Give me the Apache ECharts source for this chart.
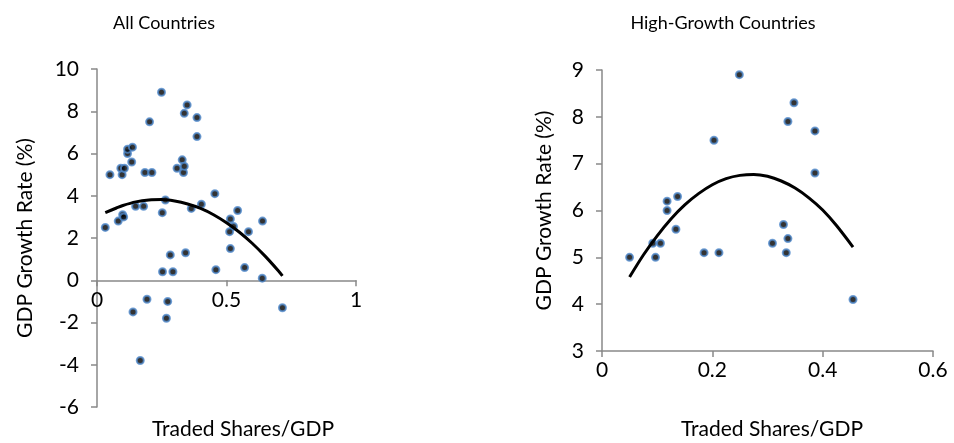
<!DOCTYPE html>
<html><head><meta charset="utf-8">
<script src="https://cdn.jsdelivr.net/npm/echarts@6/dist/echarts.min.js"></script>
<style>html,body{margin:0;padding:0;background:#fff}#c{width:954px;height:443px}</style>
</head><body><div id="c"></div>
<script>
// High-growth countries: [traded shares / GDP, GDP growth %]
const highGrowth = [
  [0.050,5.0],[0.092,5.3],[0.097,5.0],[0.106,5.3],[0.118,6.0],[0.118,6.2],[0.134,5.6],
  [0.137,6.3],[0.185,5.1],[0.203,7.5],[0.212,5.1],[0.249,8.9],[0.309,5.3],[0.329,5.7],
  [0.334,5.1],[0.337,5.4],[0.337,7.9],[0.348,8.3],[0.386,7.7],[0.386,6.8],[0.455,4.1]
];
// Remaining countries (shown only in the "All Countries" panel)
const otherCountries = [
  [0.032,2.5],[0.082,2.8],[0.099,3.1],[0.103,3.0],[0.149,3.5],[0.180,3.5],[0.252,3.2],
  [0.264,3.8],[0.364,3.4],[0.403,3.6],[0.283,1.2],[0.342,1.3],[0.253,0.4],[0.293,0.4],
  [0.459,0.5],[0.515,2.9],[0.543,3.3],[0.527,2.55],[0.512,2.3],[0.585,2.3],[0.515,1.5],
  [0.570,0.6],[0.639,2.8],[0.638,0.1],[0.139,-1.5],[0.193,-0.9],[0.273,-1.0],[0.268,-1.8],
  [0.167,-3.8],[0.716,-1.3]
];
// Polynomial trend lines
const allTrend = [
  [0.032,3.2],[0.075,3.42],[0.1,3.54],[0.15,3.71],[0.2,3.8],[0.25,3.82],[0.3,3.75],
  [0.35,3.61],[0.4,3.4],[0.45,3.1],[0.5,2.72],[0.55,2.27],[0.6,1.74],[0.65,1.13],
  [0.7,0.45],[0.716,0.21]
];
const highTrend = [
  [0.05,4.58],[0.075,5.05],[0.1,5.46],[0.125,5.82],[0.15,6.12],[0.175,6.36],[0.2,6.55],
  [0.225,6.68],[0.25,6.75],[0.275,6.77],[0.3,6.73],[0.325,6.63],[0.35,6.48],[0.375,6.27],
  [0.4,6.01],[0.425,5.68],[0.455,5.22]
];

const titles = ['All Countries', 'High-Growth Countries'];
const xName = 'Traded Shares/GDP';
const yName = 'GDP Growth Rate (%)';

const FONT = 'Lato';
const axisGray = '#898989';
const allCountries = highGrowth.concat(otherCountries);

function axisCommon() {
  return {
    type: 'value',
    splitLine: { show: false },
    axisLine: { show: true, onZero: false, lineStyle: { color: axisGray, width: 1.5 } },
    axisTick: { show: true, length: 6, lineStyle: { color: axisGray, width: 1.5 } },
    axisLabel: { color: '#000', fontFamily: FONT, fontSize: 21 }
  };
}
function xAx(gi, max, interval) {
  const a = axisCommon();
  a.gridIndex = gi; a.min = 0; a.max = max; a.interval = interval;
  a.axisLabel.margin = 9;
  return a;
}
function yAx(gi, min, max, interval) {
  const a = axisCommon();
  a.gridIndex = gi; a.min = min; a.max = max; a.interval = interval;
  a.axisLabel.margin = 18;
  a.name = yName; a.nameLocation = 'middle'; a.nameRotate = 90;
  a.nameTextStyle = { color: '#000', fontFamily: FONT, fontSize: 21 };
  return a;
}
const marker = { color: '#000', borderColor: '#5089cc', borderWidth: 2 };

const yL = yAx(0, -6, 10, 2); yL.nameGap = 61;
const yR = yAx(1, 3, 9, 1); yR.nameGap = 47;
const xL = xAx(0, 1, 0.5);
// left panel: x axis crosses at y = 0 (grid bottom is y = -6; 6 units * 338/16 px)
xL.offset = -126.75;
const xR = xAx(1, 0.6, 0.2);

const titleStyle = { fontFamily: FONT, fontSize: 18, fontWeight: 'normal', color: '#000' };
const axTitleStyle = { fontFamily: FONT, fontSize: 21, fontWeight: 'normal', color: '#000' };

const option = {
  animation: false,
  backgroundColor: '#fff',
  title: [
    { text: titles[0], left: 159, top: 9, textAlign: 'center', textStyle: titleStyle },
    { text: titles[1], left: 718, top: 9, textAlign: 'center', textStyle: titleStyle },
    { text: xName, left: 238, top: 414, textAlign: 'center', textStyle: axTitleStyle },
    { text: xName, left: 767, top: 414, textAlign: 'center', textStyle: axTitleStyle }
  ],
  grid: [
    { left: 97, width: 259, top: 69, height: 338 },
    { left: 602, width: 331, top: 70, height: 281 }
  ],
  xAxis: [xL, xR],
  yAxis: [yL, yR],
  series: [
    { type: 'scatter', xAxisIndex: 0, yAxisIndex: 0, data: allCountries, symbolSize: 7, itemStyle: marker, z: 2 },
    { type: 'line', xAxisIndex: 0, yAxisIndex: 0, data: allTrend, smooth: 0.3, showSymbol: false, lineStyle: { color: '#000', width: 3 }, z: 3 },
    { type: 'scatter', xAxisIndex: 1, yAxisIndex: 1, data: highGrowth, symbolSize: 7, itemStyle: marker, z: 2 },
    { type: 'line', xAxisIndex: 1, yAxisIndex: 1, data: highTrend, smooth: 0.3, showSymbol: false, lineStyle: { color: '#000', width: 3 }, z: 3 }
  ]
};
const chart = echarts.init(document.getElementById('c'), null, { renderer: 'canvas' });
chart.setOption(option);
</script>
</body></html>
